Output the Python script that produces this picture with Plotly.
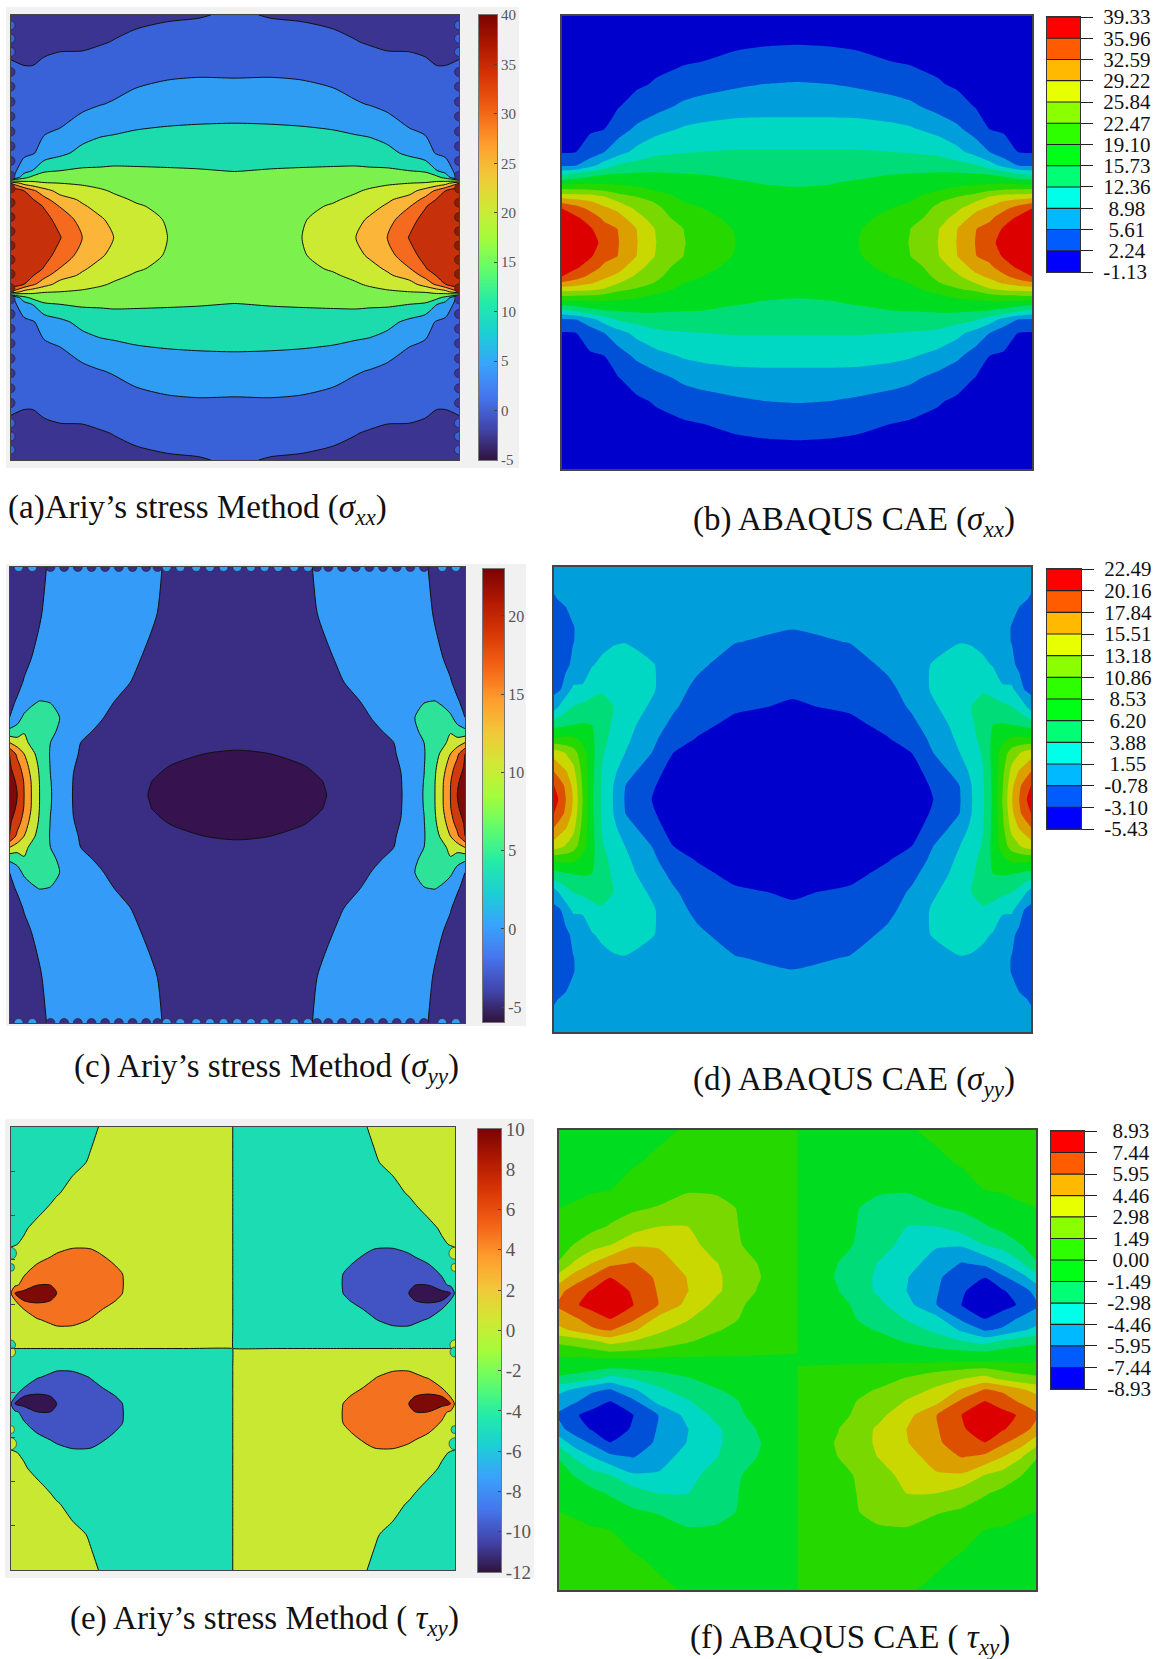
import numpy as np
import plotly.graph_objects as go

W, H = 1157, 1659

# ---------- (a) Airy sigma_xx : upper-left quarter ----------
a_levels = [0, 5, 10, 15, 20, 25, 30, 35]
a_colors = ["#3b3490", "#3a62d8", "#2f9df4", "#1cdcae", "#7cf04c", "#cdea32", "#fbb63a", "#f56a1e", "#c6300a"]
a_u = [0, .03, .05, .075, .11, .16, .2, .23, .28, .35, .42, .5]
a_v = [0, .04, .07, .085, .105, .122, .135, .15, .19, .25, .3, .36, .44, .5]
a_q = [
 [44, 41.5, 39.5, 37.5, 35.3, 30, 27, 25, 22.5, 20, 18.6, 18],
 [43.5, 40, 38.5, 36.5, 33.5, 28, 25.6, 23.8, 21.6, 19.7, 18.4, 17.8],
 [42, 38, 37, 34.7, 29.8, 25.6, 23.5, 21.7, 20.4, 19.1, 18, 17.4],
 [41, 36.8, 35.3, 31.6, 27.1, 24.3, 22.3, 20.9, 19.6, 18.6, 17.7, 17.2],
 [38, 35, 31, 27, 23.3, 21.4, 20.5, 19.6, 18.6, 17.9, 17.2, 16.8],
 [30, 23, 21.5, 20.3, 20, 19.5, 18.8, 18.4, 17.6, 17.1, 16.6, 16.3],
 [3, 13.5, 16.5, 17.6, 17.4, 17.8, 17.3, 17.1, 16.7, 16.4, 16, 15.8],
 [2.8, 7.8, 10.2, 14.3, 15, 15.7, 15.7, 15.8, 15.6, 15.4, 15.2, 14.9],
 [2.5, 4, 4.6, 6.9, 8.8, 11.4, 12.3, 12.8, 13.1, 13.2, 13.3, 13.4],
 [2.2, 3, 3.2, 4, 4.7, 7, 8.4, 8.7, 9.5, 10, 10.2, 10.3],
 [1.8, 2, 2.2, 2.6, 3, 3.8, 4.8, 5.4, 6.8, 7.6, 8, 8.1],
 [1, .45, .6, 1.2, 1.5, 2, 2.6, 2.8, 3.8, 4.7, 5, 4.9],
 [-1, -.9, -1.2, -.9, -.6, -.7, -.3, .1, .9, 1.5, 1.8, 2.2],
 [-2, -2, -2, -2, -1.8, -1.6, -1.4, -1.2, -1, -.5, -.25, .5],
]
a_bar_ticks = [-5, 0, 5, 10, 15, 20, 25, 30, 35, 40]
a_bumps_blue = [.477, .447, .417]
a_bumps_navy = [.372, .339, .305, .272, .238, .205, .172, .139]
a_bumps_red = [.11, .078, .046, .014, -.018, -.05, -.082, -.114]

# ---------- (b) ABAQUS sigma_xx ----------
b_ticks = ["39.33", "35.96", "32.59", "29.22", "25.84", "22.47", "19.10", "15.73", "12.36", "8.98", "5.61", "2.24", "-1.13"]
b_colors = ["#0000cd", "#0050d8", "#009fdc", "#00d8c4", "#00dc78", "#00dc20", "#24d800", "#78d800", "#c8d800", "#dc9f00", "#dc5000", "#dc0000"]
b_u = [0, .03, .06, .09, .12, .16, .2, .26, .3, .37, .43, .5]
b_v = [0, .03, .055, .075, .09, .105, .12, .135, .15, .17, .2, .25, .3, .35, .4, .44, .5]
b_q = [
 [38.5, 37.5, 37, 35.2, 32.7, 29.3, 25.9, 22.6, 21, 19.1, 18.6, 18],
 [38, 37, 36.4, 33.8, 32.5, 29.1, 25.6, 22.4, 20.6, 18.9, 18.3, 17.7],
 [37.2, 36.4, 34.4, 31.8, 30.4, 27, 24, 21, 19.9, 18.3, 17.8, 17.2],
 [35.96, 34, 31.8, 29.8, 28.4, 25.1, 23.2, 20.1, 19.1, 17.8, 17.3, 16.9],
 [31.9, 30.8, 29.5, 28, 25.84, 23.8, 22.2, 19.1, 18.4, 17.4, 17, 16.6],
 [26.8, 26.4, 26.1, 25.2, 23, 21.9, 20.1, 18.3, 17.7, 17, 16.5, 16.3],
 [21.8, 21.6, 21.4, 20.7, 20.2, 19.5, 18.5, 17.5, 17, 16.5, 16, 15.85],
 [16.7, 17.3, 17.8, 18, 18, 17.8, 17, 16.7, 16.4, 15.9, 15.5, 15.2],
 [11.9, 13.2, 14.8, 15.7, 16, 16.3, 16.2, 15.9, 15.73, 15.2, 14.9, 14.6],
 [5.2, 5.6, 7.9, 10.5, 12.7, 13.7, 14.3, 14.2, 14.4, 14.1, 14, 13.8],
 [2, 2.24, 3.6, 5.6, 7.7, 10, 11.5, 12.2, 12.36, 12.6, 12.6, 12.6],
 [1.5, 1.7, 1.9, 2.24, 4.2, 6.3, 7.9, 9.4, 9.9, 10.2, 10.2, 10.2],
 [1.2, 1.4, 1.5, 1.7, 2.1, 3.5, 4.5, 6.3, 6.9, 7.7, 7.9, 7.9],
 [.8, 1, 1.1, 1.3, 1.5, 1.8, 2.5, 3.8, 4.4, 5.1, 5.61, 5.8],
 [.2, .4, .6, .8, 1, 1.2, 1.5, 1.9, 2.24, 3, 3.3, 3.7],
 [-.3, 0, .2, .4, .6, .8, 1, 1.2, 1.4, 1.7, 2, 2.1],
 [-1, -.8, -.6, -.4, -.2, 0, .2, .5, .6, .9, 1.2, 1.3],
]

# ---------- (c) Airy sigma_yy ----------
c_levels = [-5, -.5, 4, 8.5, 13, 17.5, 22]
c_colors = ["#36124f", "#3a2d84", "#349cf8", "#2fe29a", "#cfe534", "#fc9a2b", "#cf3b0c", "#7d0a08"]
c_u = [0, .017, .032, .048, .066, .09, .11, .14, .2, .26, .31, .36, .43, .5]
c_v = [0, .03, .06, .09, .115, .14, .17, .205, .25, .3, .4, .5]
c_q = [
 [24, 22, 17.5, 13, 8.5, 4.2, 2.65, -.7, -2.75, -4.3, -5.1, -5.8, -6, -6.5],
 [23.5, 21.5, 17.2, 12.8, 8.4, 4.1, 2.6, -.6, -2.7, -4.2, -4.97, -5.6, -5.9, -6.3],
 [22.7, 19.5, 15.5, 11.5, 7.9, 3.85, 2.55, -.4, -2.5, -4, -4.65, -5.15, -5.6, -5.9],
 [22, 16.4, 13, 9.6, 7.2, 3.7, 2.5, -.1, -2.3, -3.65, -4.2, -4.6, -5.02, -5.2],
 [13, 10.8, 9.6, 7.6, 6.3, 4, 2.65, .1, -2.1, -3.2, -3.9, -4.1, -4.5, -4.6],
 [5, 5.8, 8.2, 6.3, 5.6, 4.7, 3.55, .5, -.95, -2.75, -3.5, -3.8, -4.1, -4.2],
 [-.5, 2.2, 4.9, 5.1, 4.9, 4.9, 4, .85, -.3, -2, -3, -3.4, -3.7, -3.8],
 [-1, -.3, 1.3, 3.5, 4.1, 3.9, 2.2, 1.1, .2, -1.2, -2.3, -2.9, -3.2, -3.3],
 [-1.2, -1.1, -.4, .4, .9, 1.3, 1.66, 1.3, .7, -.3, -1.7, -2.5, -2.75, -2.85],
 [-1.5, -1.4, -1, -.5, 0, .4, 1.1, 1.3, 1.3, .3, -1.1, -2.1, -2.4, -2.5],
 [-2, -1.9, -1.5, -1.2, -.7, .2, .85, 1.3, 1.5, .85, 0, -1.7, -1.85, -1.95],
 [-2.5, -2.3, -1.9, -1.6, -1.2, -.1, .6, 1.3, 1.5, .85, .2, -1.2, -1.5, -1.6],
]
c_bar_ticks = [-5, 0, 5, 10, 15, 20]
c_bumps_dark = [.09, .12, .15, .18, .21, .24, .27, .30, .325]
c_bumps_light = [.02, .05, .345, .375, .41, .44, .47, .5]

# ---------- (d) ABAQUS sigma_yy ----------
d_ticks = ["22.49", "20.16", "17.84", "15.51", "13.18", "10.86", "8.53", "6.20", "3.88", "1.55", "-0.78", "-3.10", "-5.43"]
d_u = [0, .012, .025, .04, .06, .08, .1, .125, .15, .21, .25, .3, .38, .5]
d_v = [0, .03, .06, .1, .13, .16, .2, .24, .29, .34, .37, .43, .5]
d_q = [
 [22, 19.5, 17.8, 15.4, 10.9, 6.5, 3.7, 1.4, -1, -3.3, -4.2, -5.2, -6, -6.3],
 [20.16, 19, 17.3, 15, 10.6, 6.6, 3.7, 1.5, -.8, -3, -4, -5, -5.8, -6.1],
 [17.84, 16.5, 15.7, 14, 10.2, 6.8, 3.8, 2, .3, -2.6, -3.7, -4.7, -5.4, -5.7],
 [14.4, 14, 13, 12, 9.5, 6.9, 4.2, 2.6, 1.5, -1, -3.1, -3.9, -4.7, -5],
 [9, 9, 9.2, 9, 8, 6.6, 4.8, 3.1, 2, -.4, -2.3, -3.2, -4.2, -4.5],
 [5.5, 5.6, 6, 6.2, 6.4, 6.2, 5, 3.5, 2.3, .3, -1.4, -2.6, -3.6, -4],
 [.4, 1.8, 3, 3.9, 4.4, 4.5, 4.8, 3.9, 2.6, 1.2, -.4, -2, -2.8, -3.3],
 [-1.5, -1.2, .3, 1.8, 1.8, 3.2, 3.5, 3, 2.6, 1.7, 0, -1.2, -2.4, -2.8],
 [-2, -1.9, -1.3, -.3, .3, 1.4, 2, 2.2, 2.1, 1.6, .3, -.4, -1.6, -2.2],
 [-2.1, -2, -1.6, -.85, -.2, .5, .9, 1.4, 1.5, .8, .3, -.1, -.7, -1.2],
 [-2, -1.9, -1.5, -.85, -.3, .3, .5, .9, .9, .5, .3, 0, -.4, -.7],
 [-.9, -.7, -.5, -.3, 0, .2, .3, .4, .4, .3, .2, 0, -.2, -.4],
 [-.2, -.1, -.05, 0, .1, .2, .2, .3, .3, .2, .1, 0, -.1, -.2],
]

# ---------- (e) Airy tau_xy ----------
e_levels = [-10, -5, 0, 5, 10]
e_colors = ["#35144f", "#4254c4", "#1bdcb2", "#c9e832", "#f4711f", "#7d0a06"]
e_u = [0, .01, .03, .06, .09, .104, .14, .18, .22, .25, .3, .4, .499]
e_v = [.001, .045, .065, .09, .108, .125, .143, .165, .19, .215, .235, .27, .31, .35, .42, .5]
e_q = [
 [2, 2, 2, 2, 2, 2, 2, 2, 2, 2, 2, 2, 2],
 [2.2, 2.4, 2.6, 3.2, 4, 4.5, 4.5, 3.5, 2.6, 2.2, 2, 2, 2],
 [2.4, 2.8, 3.4, 4.7, 5.8, 6.2, 6, 4.9, 3.4, 2.6, 2, 2, 2],
 [2.8, 3.8, 5.1, 7.5, 7.8, 7.3, 6.5, 5.8, 4.7, 3.4, 2.2, 2, 2],
 [3.6, 4.6, 10, 11, 10, 8.4, 7, 6.2, 5.5, 4.6, 2.4, 2, 2],
 [4.2, 10, 12, 12.5, 11, 10, 8, 6.7, 5.8, 5.1, 2.6, 2, 2],
 [3.6, 4.4, 6, 10, 10, 8.5, 7.5, 6.6, 5.8, 5.2, 2.6, 2, 2],
 [2.8, 3.5, 4.9, 6.6, 7.5, 7.5, 7, 6.4, 5.7, 5.15, 2.6, 2, 2],
 [2.3, 2.6, 3.5, 5.1, 6.2, 6.5, 6.3, 6, 5.3, 4.6, 2.4, 2, 2],
 [.6, 1, 2, 3, 4.4, 5, 5.5, 5.4, 4.6, 3.2, 2.2, 2, 2],
 [-.3, -.15, .4, 1.6, 3, 3.8, 4.6, 4.6, 3.7, 2.8, 2.1, 2, 2],
 [-1.2, -.9, -.3, .8, 1.6, 1.9, 2.2, 2.4, 2.2, 2, 2, 2, 2],
 [-1.6, -1.5, -1.2, -.5, .5, 1.1, 1.7, 2, 2, 2, 2, 2, 2],
 [-1.9, -1.9, -1.7, -1.4, -.7, -.2, .8, 1.6, 2, 2, 2, 2, 2],
 [-2, -2, -2, -2, -1.7, -1.3, -.6, .2, 1.5, 2, 2, 2, 2],
 [-2, -2, -2, -2, -1.9, -1.7, -1, -.4, .5, 1.6, 2, 2, 2],
]
e_bar_ticks = [-12, -10, -8, -6, -4, -2, 0, 2, 4, 6, 8, 10]
e_side_ticks = [-.4, -.3, -.2, -.1, 0, .1, .2, .3, .4]
e_bumps_v = [.215, .183, .008]
e_bumps_size = [12, 8, 10]

# ---------- (f) ABAQUS tau_xy ----------
f_ticks = ["8.93", "7.44", "5.95", "4.46", "2.98", "1.49", "0.00", "-1.49", "-2.98", "-4.46", "-5.95", "-7.44", "-8.93"]
f_u = [0, .03, .07, .107, .155, .21, .27, .33, .37, .415, .46, .499]
f_v = [.015, .04, .065, .09, .12, .15, .18, .21, .25, .29, .33, .37, .43, .5]
f_center = -.4
f_q = [
 [.5, .7, .9, 1.2, 1.1, .8, .5, .4, .3, .2, .1, .05],
 [1.8, 2, 2.6, 3.5, 2.9, 2.4, 1.6, .9, .7, .6, .55, .5],
 [4, 4.7, 5.7, 6.1, 4.7, 3.2, 2.4, 1.6, 1.2, .8, .7, .7],
 [5.3, 5.7, 6.7, 7.5, 6.3, 4, 3.1, 2, 1.6, .9, .75, .7],
 [6.2, 7.2, 8, 8.6, 7.5, 5.9, 4, 2.6, 1.8, 1.1, .8, .7],
 [5.5, 6.6, 7.6, 8.6, 7.2, 5.8, 4.5, 3.2, 2.4, 1.45, .9, .7],
 [3.6, 5, 6.2, 7.4, 7, 5.6, 4.4, 3.2, 2.5, 1.6, 1, .8],
 [1.6, 3.1, 4.5, 5.6, 6.05, 5.1, 3.9, 3.05, 2.2, 1.5, .95, .8],
 [.9, 1.5, 2.4, 2.95, 4.3, 4.3, 3.6, 2.2, 1.75, .9, .75, .7],
 [.5, .8, 1.1, 1.6, 2.2, 2.98, 3, 2, 1.6, .8, .7, .7],
 [0, .1, .4, .9, 1.3, 1.6, 1.9, 1.7, 1.5, .7, .65, .6],
 [-.3, -.2, -.1, -.02, .4, .9, 1.4, 1.4, .8, .6, .55, .5],
 [-.5, -.5, -.45, -.35, -.1, .2, .4, .45, .45, .45, .45, .45],
 [-.6, -.6, -.6, -.55, -.4, -.2, .1, .3, .35, .4, .4, .4],
]

bright_colors = ["#0000ff", "#005cff", "#00b9ff", "#00ffe8", "#00ff74", "#00ff17", "#2eff00", "#8bff00", "#e8ff00", "#ffb900", "#ff5c00", "#ff0000"]

captions = [
 ("(a)Ariy’s stress Method (<i>σ<sub>xx</sub></i>)", 6, 510),
 ("(b) ABAQUS CAE (<i>σ<sub>xx</sub></i>)", 691, 521),
 ("(c) Ariy’s stress Method (<i>σ<sub>yy</sub></i>)", 72, 1068),
 ("(d) ABAQUS CAE (<i>σ<sub>yy</sub></i>)", 691, 1081),
 ("(e) Ariy’s stress Method ( <i>τ<sub>xy</sub></i>)", 68, 1620),
 ("(f) ABAQUS CAE ( <i>τ<sub>xy</sub></i>)", 688, 1639),
]

SERIF = "Liberation Serif"


def sym(us, vs, q):
    q = np.array(q, float)
    row = np.hstack([q, q[:, -2::-1]])
    z = np.vstack([row[:0:-1], row])
    x = list(us) + [1 - u for u in reversed(us[:-1])]
    y = [-v for v in reversed(vs[1:])] + list(vs)
    return x, y, z


def anti(us, vs, q, center=None):
    q = np.array(q, float)
    top = np.hstack([q, -q[:, ::-1]])
    rows = [-top[::-1]]
    y = [-v for v in reversed(vs)]
    if center is not None:
        rows.append(np.full((1, top.shape[1]), center))
        y.append(0)
    rows.append(top)
    y += list(vs)
    x = list(us) + [1 - u for u in reversed(us)]
    return x, y, np.vstack(rows)


def dom(x0, x1, y0, y1):
    return [x0 / W, x1 / W], [1 - y1 / H, 1 - y0 / H]


fig = go.Figure()
layout = {}
shapes = []
axis_no = [0]


def new_axes(x0, x1, y0, y1, xr, yr, **yextra):
    axis_no[0] += 1
    n = axis_no[0]
    dx, dy = dom(x0, x1, y0, y1)
    s = "" if n == 1 else str(n)
    layout["xaxis" + s] = dict(domain=dx, range=xr, anchor="y" + s, showticklabels=False, ticks="", automargin=False,
                               showgrid=False, zeroline=False, showline=True, mirror=True,
                               linecolor=yextra.get("linecolor", "#444"), linewidth=yextra.get("linewidth", 1))
    ya = dict(domain=dy, range=yr, anchor="x" + s, showticklabels=False, ticks="", showgrid=False, automargin=False,
              zeroline=False, showline=True, mirror=True,
              linecolor=yextra.get("linecolor", "#444"), linewidth=yextra.get("linewidth", 1))
    ya.update({k: v for k, v in yextra.items() if k not in ("linecolor", "linewidth")})
    layout["yaxis" + s] = ya
    return "x" + s, "y" + s


def contour_panel(xa, ya, xyz, levels, colors, smooth, line_w):
    x, y, z = xyz
    n = len(levels)
    step = (levels[-1] - levels[0]) / (n - 1)
    fig.add_trace(go.Contour(
        x=x, y=y, z=z, xaxis=xa, yaxis=ya, autocontour=False, showscale=False, hoverinfo="skip",
        contours=dict(coloring="fill", start=levels[0], end=levels[-1] + step * .01, size=step, showlines=line_w > 0),
        line=dict(color="#111", width=line_w, smoothing=smooth),
        colorscale=[[k / n, c] for k, c in enumerate(colors)]))


def smooth_bar(x0, x1, y0, y1, lo, hi, ticks, size):
    xa, ya = new_axes(x0, x1, y0, y1, [-.5, .5], [lo, hi], linecolor="#777", side="right",
                      tickmode="array", tickvals=ticks, ticktext=[str(t) for t in ticks], showticklabels=True,
                      ticks="inside", ticklen=3, tickcolor="#444", tickfont=dict(family=SERIF, size=size, color="#555"))
    levels = list(np.arange(lo, hi, .25)) + [hi]
    fig.add_trace(go.Heatmap(x=[0], y=levels, z=[[v] for v in levels], xaxis=xa, yaxis=ya, colorscale="Turbo",
                             zmin=lo, zmax=hi, showscale=False, hoverinfo="skip", zsmooth="best"))


def step_bar(x0, x1, y0, y1, labels, colors):
    vals = [float(t) for t in labels]
    txt = [t if len(t) >= 5 else "\u00a0" + t for t in labels]
    xa, ya = new_axes(x0, x1, y0, y1, [0, 1], [vals[-1], vals[0]], linecolor="#333", side="right",
                      tickmode="array", tickvals=vals, ticktext=txt, showticklabels=True,
                      ticks="outside", ticklen=12, tickwidth=1.2, tickcolor="#222", ticklabelstandoff=6,
                      tickfont=dict(family=SERIF, size=21, color="#111"))
    edges = vals[::-1]
    fig.add_trace(go.Heatmap(x=[0, 1], y=edges, z=[[k] for k in range(12)], xaxis=xa, yaxis=ya,
                             colorscale=[[k / 11, c] for k, c in enumerate(colors)], zmin=0, zmax=11,
                             showscale=False, hoverinfo="skip"))
    for v in vals:
        shapes.append(dict(type="line", xref=xa + " domain", yref=ya, x0=0, x1=1, y0=v, y1=v,
                           line=dict(color="#222", width=1.2), layer="above"))


def bumps(xa, ya, xs, ys, color, size=9):
    fig.add_trace(go.Scatter(x=xs, y=ys, xaxis=xa, yaxis=ya, mode="markers", hoverinfo="skip", showlegend=False,
                             marker=dict(color=color, size=size, line=dict(color="#222", width=.6))))


# grey panels behind the three left plots
for x0, x1, y0, y1 in [(6, 519, 7, 468), (6, 526, 564, 1026), (5, 534, 1119, 1578)]:
    shapes.append(dict(type="rect", xref="paper", yref="paper", x0=x0 / W, x1=x1 / W, y0=1 - y1 / H, y1=1 - y0 / H,
                       fillcolor="#f1f1f1", line=dict(width=0), layer="below"))

LEFT_SMOOTH, RIGHT_SMOOTH = .75, .5

# (a)
xa, ya = new_axes(10.5, 459, 15, 460, [0, 1], [-.5, .5])
contour_panel(xa, ya, sym(a_u, a_v, a_q), a_levels, a_colors, LEFT_SMOOTH, 1)
for vals, col in [(a_bumps_blue, "#3a62d8"), (a_bumps_navy, "#3b3490"), (a_bumps_red, "#8a1c05")]:
    all_v = list(vals) + ([-v for v in vals] if vals is not a_bumps_red else [])
    bumps(xa, ya, [0.0] * len(all_v) + [1.0] * len(all_v), all_v + all_v, col)
smooth_bar(479, 497, 15, 460, -5, 40, a_bar_ticks, 15)

# (b)
xa, ya = new_axes(562, 1032, 16, 469, [0, 1], [-.5, .5], linewidth=1.5)
contour_panel(xa, ya, sym(b_u, b_v, b_q), [float(t) for t in b_ticks[-2:0:-1]], b_colors, RIGHT_SMOOTH, 0)
step_bar(1047, 1080, 17, 272, b_ticks, bright_colors)

# (c)
xa, ya = new_axes(9.5, 465, 567, 1023, [0, 1], [-.5, .5])
contour_panel(xa, ya, sym(c_u, c_v, c_q), c_levels, c_colors, LEFT_SMOOTH, 1)
for vals, col in [(c_bumps_dark, "#3a2d84"), (c_bumps_light, "#349cf8")]:
    xs = list(vals) + [1 - u for u in vals]
    bumps(xa, ya, xs + xs, [.5] * len(xs) + [-.5] * len(xs), col)
smooth_bar(483, 504, 569, 1022, -5.95, 23, c_bar_ticks, 16)

# (d)
xa, ya = new_axes(554, 1031, 567, 1032, [0, 1], [-.5, .5], linewidth=1.5)
contour_panel(xa, ya, sym(d_u, d_v, d_q), [float(t) for t in d_ticks[-2:0:-1]], b_colors, RIGHT_SMOOTH, 0)
step_bar(1047, 1081, 569, 829, d_ticks, bright_colors)

# (e)
xa, ya = new_axes(10.5, 455, 1127, 1570, [0, 1], [-.5, .5], tickmode="array", tickvals=e_side_ticks,
                  ticks="inside", ticklen=4, tickcolor="#444")
contour_panel(xa, ya, anti(e_u, e_v, e_q), e_levels, e_colors, LEFT_SMOOTH, 1)
for sx, sign in [(0.0, 1), (1.0, -1)]:
    for v, sz in zip(e_bumps_v, e_bumps_size):
        bumps(xa, ya, [sx], [v], e_colors[2] if sign > 0 else e_colors[3], sz)
        bumps(xa, ya, [sx], [-v], e_colors[3] if sign > 0 else e_colors[2], sz)
smooth_bar(478, 501, 1129, 1572, -12, 10, e_bar_ticks, 19)

# (f)
xa, ya = new_axes(559, 1036, 1130, 1590, [0, 1], [-.5, .5], linewidth=1.5)
contour_panel(xa, ya, anti(f_u, f_v, f_q, f_center), [float(t) for t in f_ticks[-2:0:-1]], b_colors, RIGHT_SMOOTH, 0)
step_bar(1051, 1084, 1131, 1389, f_ticks, bright_colors)

annotations = [dict(text=t, x=x / W, y=1 - y / H, xref="paper", yref="paper", xanchor="left", yanchor="middle",
                    showarrow=False, font=dict(family=SERIF, size=33, color="#111")) for t, x, y in captions]

fig.update_layout(width=W, height=H, margin=dict(l=0, r=0, t=0, b=0, autoexpand=False), paper_bgcolor="white",
                  plot_bgcolor="white", showlegend=False, shapes=shapes, annotations=annotations, **layout)
fig.write_html("out.html", config=dict(displayModeBar=False),
               post_script="document.body.style.margin='0';document.body.style.overflow='hidden';")
